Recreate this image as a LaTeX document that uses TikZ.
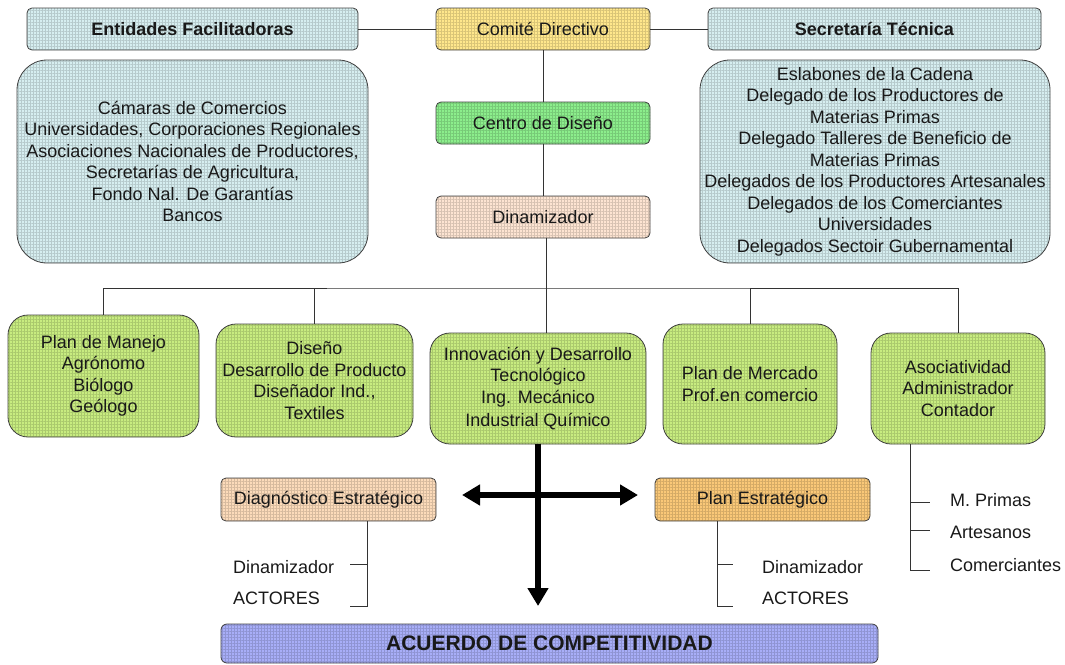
\documentclass[tikz,border=0pt]{standalone}
\usepackage{fontspec}
\setmainfont{Liberation Sans}
\usetikzlibrary{arrows.meta,patterns.meta}

\definecolor{celeste}{RGB}{214,238,240}
\definecolor{amarillo}{RGB}{255,231,140}
\definecolor{verdeclaro}{RGB}{140,238,140}
\definecolor{durazno}{RGB}{253,228,210}
\definecolor{hoja}{RGB}{200,236,128}
\definecolor{salmon}{RGB}{252,219,186}
\definecolor{naranja}{RGB}{250,200,120}
\definecolor{lila}{RGB}{168,174,248}

\begin{document}
\begin{tikzpicture}[x=1pt,y=-1pt,
    every node/.style={font=\fontsize{18}{21.5}\selectfont, text=black!90},
    caja/.style={draw=black!75, line width=0.8pt, align=center, inner sep=0pt,
      preaction={fill=#1},
      pattern={Hatch[angle=0,distance=3pt,line width=0.35pt]}, pattern color=#1!85!black},
    cab/.style={caja=#1, rounded corners=5pt, minimum height=42pt},
    verde/.style={caja=hoja, rounded corners=20pt},
    liga/.style={draw=black!80, line width=0.8pt},
    flecha/.style={line width=6pt},
    etq/.style={anchor=west, inner sep=0pt}]
  \useasboundingbox (0,0) rectangle (1065,664);

  % top row
  \node (ent) [cab=celeste, minimum width=331pt] at (192.5,29) {\textbf{Entidades Facilitadoras}};
  \node (comite) [cab=amarillo, minimum width=214pt] at (543,29) {Comité Directivo};
  \node (secre) [cab=celeste, minimum width=333pt] at (874.5,29) {\textbf{Secretaría Técnica}};

  \node (entlist) [caja=celeste, rounded corners=30pt, minimum width=351pt, minimum height=203pt] at (192.5,161.5)
    {Cámaras de Comercios\\ Universidades, Corporaciones Regionales\\ Asociaciones Nacionales de Productores,\\
     Secretarías de Agricultura,\\ Fondo Nal. De Garantías\\ Bancos};
  \node (secrelist) [caja=celeste, rounded corners=30pt, minimum width=350pt, minimum height=203pt] at (875,161.5)
    {Eslabones de la Cadena\\ Delegado de los Productores de\\ Materias Primas\\ Delegado Talleres de Beneficio de\\
     Materias Primas\\ Delegados de los Productores Artesanales\\ Delegados de los Comerciantes\\ Universidades\\
     Delegados Sectoir Gubernamental};

  \node (centro) [cab=verdeclaro, minimum width=214pt] at (543,123) {Centro de Diseño};
  \node (dinam) [cab=durazno, minimum width=214pt] at (543,217) {Dinamizador};

  % second row
  \node (manejo) [verde, minimum width=191pt, minimum height=122pt] at (103.5,376)
    {Plan de Manejo\\ Agrónomo\\ Biólogo\\ Geólogo};
  \node (diseno) [verde, minimum width=197pt, minimum height=113pt] at (314.5,380.5)
    {Diseño\\ Desarrollo de Producto\\ Diseñador Ind.,\\ Textiles};
  \node (innov) [verde, minimum width=216pt, minimum height=111pt] at (538,388.5)
    {Innovación y Desarrollo\\ Tecnológico\\ Ing. Mecánico\\[2pt] Industrial Químico};
  \node (mercado) [verde, minimum width=174pt, minimum height=120pt] at (750,384)
    {Plan de Mercado\\ Prof.en comercio};
  \node (asoc) [verde, minimum width=174pt, minimum height=111pt] at (958,388.5)
    {Asociatividad\\ Administrador\\ Contador};

  \node (diag) [cab=salmon, minimum width=215pt, minimum height=43pt] at (328.5,499.5) {Diagnóstico Estratégico};
  \node (planest) [cab=naranja, minimum width=215pt, minimum height=43pt] at (762.5,499.5) {Plan Estratégico};

  \node (acuerdo) [caja=lila, rounded corners=6pt, minimum width=657pt, minimum height=39pt,
    font=\bfseries\fontsize{21}{24}\selectfont] at (549.5,643.5) {ACUERDO DE COMPETITIVIDAD};

  % small labels
  \node (ddin) [etq] at (233,567) {Dinamizador};
  \node (dact) [etq] at (233,598) {ACTORES};
  \node (pdin) [etq] at (762,567) {Dinamizador};
  \node (pact) [etq] at (762,598) {ACTORES};
  \node (mprim) [etq] at (950,500) {M. Primas};
  \node (artes) [etq] at (950,532) {Artesanos};
  \node (comer) [etq] at (950,565) {Comerciantes};

  % connectors
  \coordinate (bus) at (546,288);
  \draw[liga] (ent) -- (comite) -- (secre);
  \draw[liga] (comite) -- (centro) -- (dinam);
  \draw[liga] (manejo.north) |- (bus) -| (asoc.north);
  \draw[liga] (diseno.north) -- (diseno.north |- bus);
  \draw[liga] (mercado.north) -- (mercado.north |- bus);
  \draw[liga] (dinam.south -| bus) -- (innov.north -| bus);

  \coordinate (dbot) at (367,606);
  \coordinate (dtk) at (367,564);
  \draw[liga] (diag.south -| dbot) -- (dbot) -- ++(-17,0);
  \draw[liga] (dtk) -- ++(-17,0);

  \coordinate (pbot) at (717,606);
  \coordinate (ptk) at (717,564);
  \draw[liga] (planest.south -| pbot) -- (pbot) -- ++(16,0);
  \draw[liga] (ptk) -- ++(16,0);

  \coordinate (abot) at (910,570);
  \draw[liga] (asoc.south -| abot) -- (abot) -- ++(20,0);
  \foreach \y in {502,530}
    \draw[liga] (910,\y) -- ++(20,0);

  % thick arrows
  \coordinate (abajo) at (538,606);
  \coordinate (izq) at (462,495);
  \coordinate (der) at (638,495);
  \draw[flecha, -{Triangle[width=20pt,length=18pt]}] (innov.south) -- (abajo);
  \draw[flecha, {Triangle[width=20pt,length=18pt]}-{Triangle[width=20pt,length=18pt]}] (izq) -- (der);

\end{tikzpicture}
\end{document}
